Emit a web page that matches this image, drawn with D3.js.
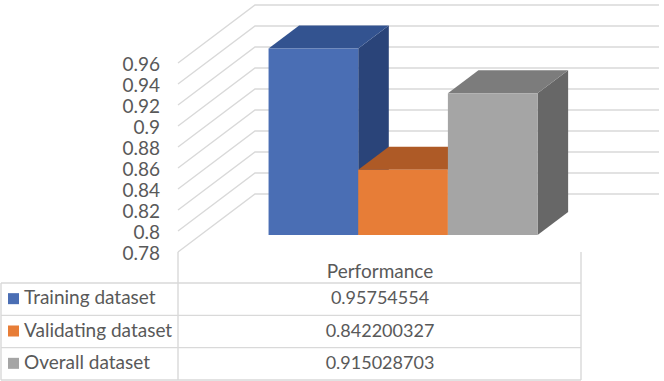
<!DOCTYPE html>
<html>
<head>
<meta charset="utf-8">
<script src="https://cdn.jsdelivr.net/npm/d3@7"></script>
<style>
  html, body { margin: 0; padding: 0; background: #fff; }
  svg { display: block; }
  text { font-family: Lato, "Open Sans", sans-serif; fill: #595959; }
</style>
</head>
<body>
<svg id="chart" width="664" height="381"></svg>
<script>
const seriesNames = ["Training dataset", "Validating dataset", "Overall dataset"];
const seriesValues = [0.95754554, 0.842200327, 0.915028703];
const seriesColors = ["#4a6eb4", "#e77d37", "#a5a5a5"];
const topColors = ["#335390", "#ae5a26", "#7c7c7c"];
const sideColors = ["#2a4479", "#ae5a26", "#676767"];
const tickLabels = ["0.78", "0.8", "0.82", "0.84", "0.86", "0.88", "0.9", "0.92", "0.94", "0.96"];
const categoryLabel = "Performance";

const svg = d3.select("#chart");
const gridColor = "#d9d9d9";

// value scale on the front edge of the side wall
const y = d3.scaleLinear().domain([0.78, 0.96]).range([252, 63]);

// depth: 0 is the front edge of the wall, 1 the back wall
const depthX = d3.scaleLinear().domain([0, 1]).range([0, 77]);
const depthY = d3.scaleLinear().domain([0, 1]).range([0, -58]);
const barFront = 0.293;
const barBack = 0.69;

const x = d3.scaleBand().domain(seriesNames).range([246, 515]);

function pt(px, value, depth) {
  return [px + depthX(depth), y(value) + depthY(depth)];
}

const line = d3.line();

// walls
tickLabels.forEach(t => {
  const v = +t;
  svg.append("path")
    .attr("d", line([pt(178, v, 0), pt(178, v, 1), [659, pt(178, v, 1)[1]]]))
    .attr("fill", "none")
    .attr("stroke", gridColor)
    .attr("stroke-width", 1.4);

  svg.append("text")
    .attr("x", 160)
    .attr("y", y(v))
    .attr("dy", "0.42em")
    .attr("text-anchor", "end")
    .attr("font-size", 19)
    .text(t);
});

// side face is drawn first so that the next bar sits over it
seriesNames.forEach((name, i) => {
  const x0 = x(name);
  const x1 = x0 + x.bandwidth();
  const v = seriesValues[i];

  svg.append("path")
    .attr("d", line([pt(x1, 0.78, barFront), pt(x1, 0.78, barBack), pt(x1, v, barBack), pt(x1, v, barFront)]) + "Z")
    .attr("fill", sideColors[i]);

  svg.append("path")
    .attr("d", line([pt(x0, v, barFront), pt(x0, v, barBack), pt(x1, v, barBack), pt(x1, v, barFront)]) + "Z")
    .attr("fill", topColors[i]);

  svg.append("path")
    .attr("d", line([pt(x0, 0.78, barFront), pt(x1, 0.78, barFront), pt(x1, v, barFront), pt(x0, v, barFront)]) + "Z")
    .attr("fill", seriesColors[i]);
});

// data table
const rowY = d3.scaleBand().domain(seriesNames).range([283, 380]);
const tableLeft = 1, tableMid = 178, tableRight = 581;

function rule(x1, y1, x2, y2) {
  svg.append("line")
    .attr("x1", x1).attr("y1", y1)
    .attr("x2", x2).attr("y2", y2)
    .attr("stroke", gridColor)
    .attr("stroke-width", 1.4);
}

rule(tableMid, 252, tableMid, 380);
rule(tableRight, 252, tableRight, 380);
rule(tableLeft, 283, tableLeft, 380);
rule(tableLeft, 283, tableRight, 283);
seriesNames.forEach(name => {
  rule(tableLeft, rowY(name) + rowY.bandwidth(), tableRight, rowY(name) + rowY.bandwidth());
});

svg.append("text")
  .attr("x", 380)
  .attr("y", 271)
  .attr("dy", "0.35em")
  .attr("text-anchor", "middle")
  .attr("font-size", 19)
  .text(categoryLabel);

seriesNames.forEach((name, i) => {
  const cy = rowY(name) + rowY.bandwidth() / 2;

  svg.append("rect")
    .attr("x", 8)
    .attr("y", cy - 6)
    .attr("width", 11)
    .attr("height", 11)
    .attr("fill", seriesColors[i]);

  svg.append("text")
    .attr("x", 24)
    .attr("y", cy - 1.5)
    .attr("dy", "0.35em")
    .attr("font-size", 19)
    .text(name);

  svg.append("text")
    .attr("x", 380)
    .attr("y", cy - 1)
    .attr("dy", "0.35em")
    .attr("text-anchor", "middle")
    .attr("font-size", 18)
    .text(seriesValues[i]);
});
</script>
</body>
</html>
